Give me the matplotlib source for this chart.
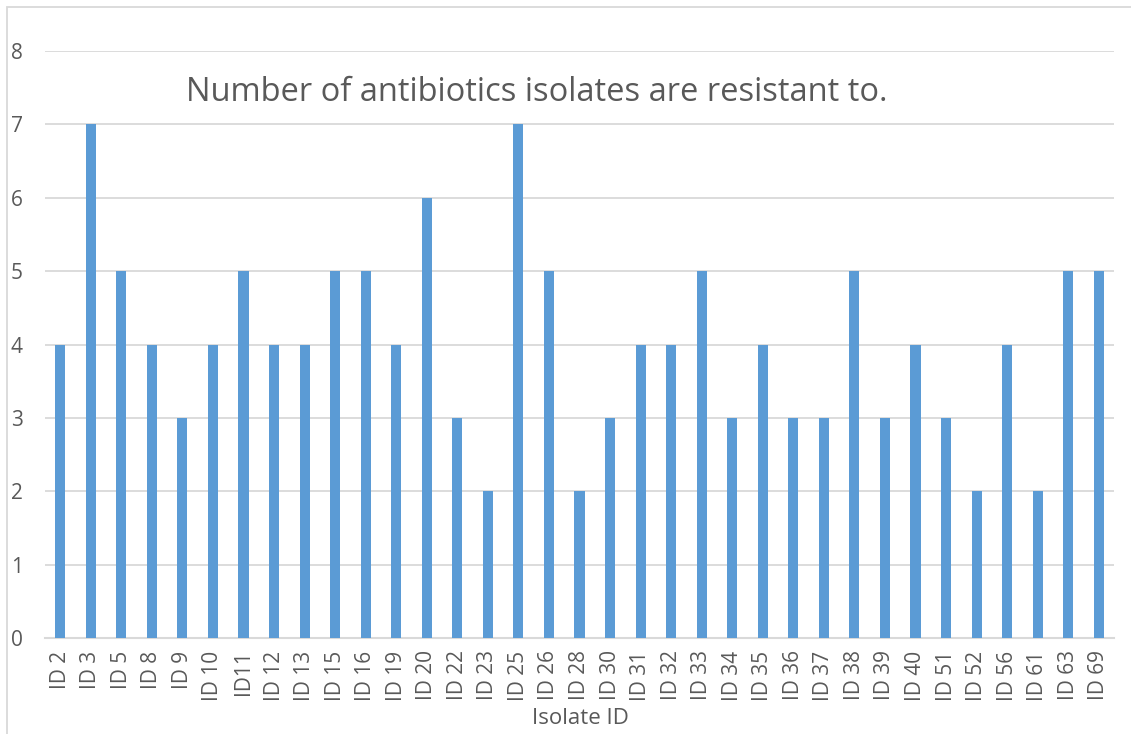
import matplotlib.pyplot as plt
from matplotlib.patches import Rectangle

isolates = ["ID 2", "ID 3", "ID 5", "ID 8", "ID 9", "ID 10", "ID11", "ID 12", "ID 13",
            "ID 15", "ID 16", "ID 19", "ID 20", "ID 22", "ID 23", "ID 25", "ID 26",
            "ID 28", "ID 30", "ID 31", "ID 32", "ID 33", "ID 34", "ID 35", "ID 36",
            "ID 37", "ID 38", "ID 39", "ID 40", "ID 51", "ID 52", "ID 56", "ID 61",
            "ID 63", "ID 69"]
resistant_counts = [4, 7, 5, 4, 3, 4, 5, 4, 4, 5, 5, 4, 6, 3, 2, 7, 5, 2, 3, 4, 4, 5,
                    3, 4, 3, 3, 5, 3, 4, 3, 2, 4, 2, 5, 5]
y_ticks = [0, 1, 2, 3, 4, 5, 6, 7, 8]

plt.rcParams['font.family'] = ['Open Sans', 'DejaVu Sans']
text_grey = '#595959'

W, H = 1131, 734
fig = plt.figure(figsize=(W / 100, H / 100), dpi=100)
ax = fig.add_axes([45 / W, (H - 638) / H, (1114 - 45) / W, (638 - 51) / H])

ax.bar(range(len(isolates)), resistant_counts, width=0.33, color='#5B9BD5', zorder=3)

ax.set_xlim(-0.5, len(isolates) - 0.5)
ax.set_ylim(0, 8)
ax.set_yticks(y_ticks)
ax.set_xticks(range(len(isolates)))
ax.set_xticklabels(isolates, rotation=90, fontsize=15)
ax.set_yticklabels([str(t) for t in y_ticks], fontsize=15)
ax.tick_params(axis='both', length=0, labelcolor=text_grey)
ax.tick_params(axis='y', pad=16)
ax.tick_params(axis='x', pad=9)
ax.grid(axis='y', color='#D9D9D9', linewidth=1.3, zorder=0)
for side in ['top', 'right', 'left']:
    ax.spines[side].set_visible(False)
ax.spines['bottom'].set_color('#D9D9D9')
ax.spines['bottom'].set_linewidth(1.5)

ax.text(0.46, 0.93, 'Number of antibiotics isolates are resistant to.',
        transform=ax.transAxes, ha='center', va='center', fontsize=23.5, color=text_grey)
fig.text(580 / W, (H - 718) / H, 'Isolate ID', ha='center', va='center',
         fontsize=16, color=text_grey)

# chart area frame, running off the right and bottom edges
fig.add_artist(Rectangle((7 / W, -0.1), 1.2, (H - 7) / H + 0.1, transform=fig.transFigure,
                         fill=False, edgecolor='#D9D9D9', linewidth=1.3, clip_on=False))

fig.savefig('out.png', dpi=100)
